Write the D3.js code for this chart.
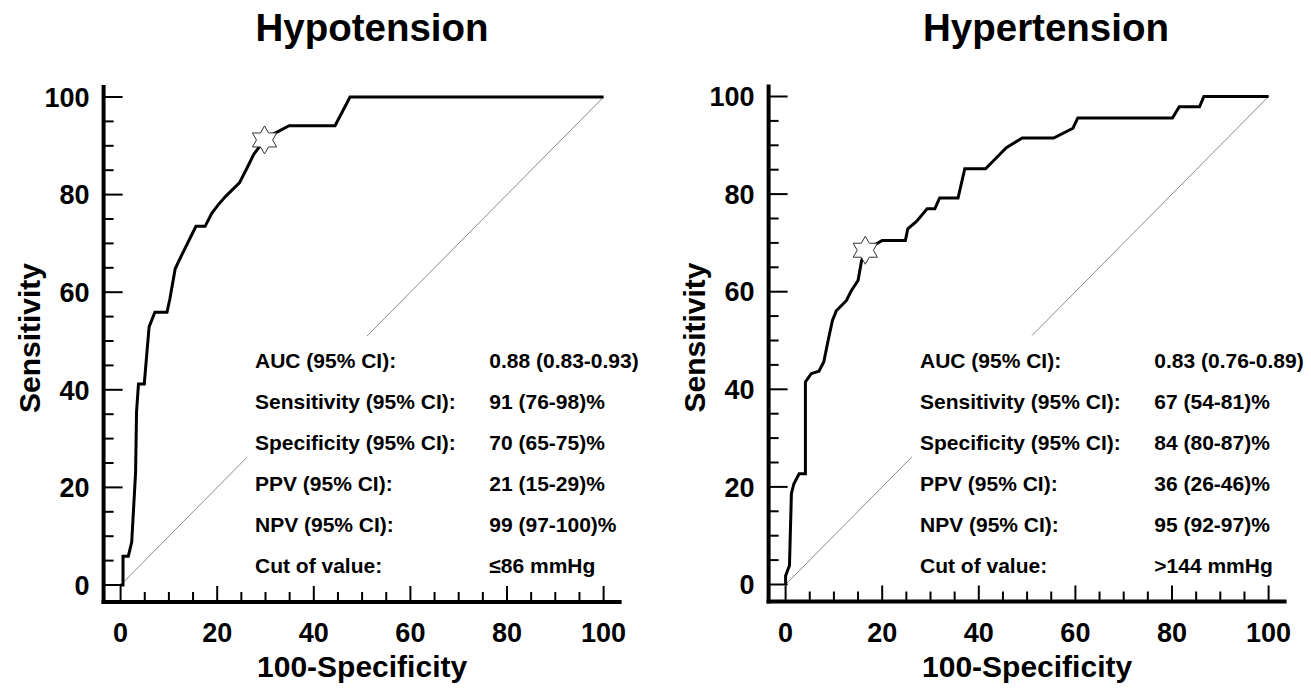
<!DOCTYPE html>
<html>
<head>
<meta charset="utf-8">
<script src="https://cdn.jsdelivr.net/npm/d3@7"></script>
<style>
  html, body { margin: 0; padding: 0; background: #fff; }
  svg { display: block; font-family: "Liberation Sans", Arial, sans-serif; font-weight: bold; }
</style>
</head>
<body>
<svg id="chart" width="1311" height="690"></svg>
<script>
// ---- data ----
const titles = ["Hypotension", "Hypertension"];
const xAxisTitle = "100-Specificity";
const yAxisTitle = "Sensitivity";
const tickValues = [0, 20, 40, 60, 80, 100];
const tickLabels = ["0", "20", "40", "60", "80", "100"];

const hypoFPR  = [0, 0.5, 0.5, 1.6, 2.3, 3.1, 3.3, 3.7, 4.9, 5.9, 7.1, 9.6, 10.2, 11.3, 12.3, 15.6, 17.5, 18.9, 20.2, 21.8, 24.6, 26.1, 27.6, 29.8, 31.6, 34.9, 44.4, 47.5, 100];
const hypoSens = [0, 0, 5.9, 5.9, 8.8, 23.0, 35.5, 41.2, 41.2, 52.9, 55.9, 55.9, 58.6, 64.8, 66.9, 73.5, 73.5, 76.2, 77.9, 79.7, 82.4, 85.3, 88.3, 91.2, 92.4, 94.1, 94.1, 100, 100];
const hypoCut = [29.8, 91.2];

const hyperFPR  = [0, 0, 0.8, 1.2, 1.7, 2.8, 4.1, 4.1, 5.3, 6.9, 7.9, 8.8, 9.7, 10.5, 12.6, 13.6, 15.0, 15.7, 16.5, 20.0, 24.8, 25.3, 27.1, 29.3, 30.9, 31.9, 35.7, 37.1, 41.4, 43.6, 45.7, 49.0, 55.5, 59.5, 60.5, 80.1, 81.5, 85.7, 86.6, 100];
const hyperSens = [0, 1.8, 3.9, 18.6, 20.6, 22.7, 22.7, 41.5, 43.2, 43.7, 45.6, 50.0, 54.1, 56.1, 58.2, 60.2, 62.3, 66.2, 68.5, 70.5, 70.5, 72.9, 74.4, 77.0, 77.0, 79.2, 79.2, 85.2, 85.2, 87.4, 89.5, 91.5, 91.5, 93.5, 95.6, 95.6, 97.9, 97.9, 100, 100];
const hyperCut = [16.5, 68.5];

const statLabels = ["AUC (95% CI):", "Sensitivity (95% CI):", "Specificity (95% CI):", "PPV (95% CI):", "NPV (95% CI):", "Cut of value:"];
const hypoValues  = ["0.88 (0.83-0.93)", "91 (76-98)%", "70 (65-75)%", "21 (15-29)%", "99 (97-100)%", "\u226486 mmHg"];
const hyperValues = ["0.83 (0.76-0.89)", "67 (54-81)%", "84 (80-87)%", "36 (26-46)%", "95 (92-97)%", ">144 mmHg"];

// ---- layout ----
const svg = d3.select("#chart");
const W = 483, H = 488;
const x = d3.scaleLinear().domain([0, 100]).range([0, W]);
const y = d3.scaleLinear().domain([0, 100]).range([H, 0]);

const panels = [
  { ox: 120.6, oy: 97, title: titles[0], titleX: 372, fpr: hypoFPR, sens: hypoSens, cut: hypoCut, values: hypoValues },
  { ox: 785.6, oy: 96.5, title: titles[1], titleX: 1046, fpr: hyperFPR, sens: hyperSens, cut: hyperCut, values: hyperValues }
];

function hexagram(R) {
  const r = R / Math.sqrt(3);
  const pts = [];
  for (let i = 0; i < 12; i++) {
    const a = -Math.PI / 2 + i * Math.PI / 6;
    const rad = i % 2 === 0 ? R : r;
    pts.push([rad * Math.cos(a), rad * Math.sin(a)]);
  }
  return "M" + pts.map(p => p.join(",")).join("L") + "Z";
}

panels.forEach(p => {
  // title
  svg.append("text").attr("x", p.titleX).attr("y", 41)
    .attr("text-anchor", "middle").attr("font-size", 38.5).text(p.title);

  const g = svg.append("g").attr("transform", `translate(${p.ox},${p.oy})`);

  // diagonal reference line
  g.append("line")
    .attr("x1", x(0)).attr("y1", y(0)).attr("x2", x(100)).attr("y2", y(100))
    .attr("stroke", "#8a8a8a").attr("stroke-width", 1);

  // white box behind statistics
  g.append("rect").attr("x", 126.5).attr("y", 239).attr("width", 360).attr("height", 247).attr("fill", "#fff");

  // statistics text
  statLabels.forEach((lab, i) => {
    g.append("text").attr("x", 134.4).attr("y", 271 + i * 41).attr("font-size", 21).text(lab);
    g.append("text").attr("x", 368.7).attr("y", 271 + i * 41).attr("font-size", 21).text(p.values[i]);
  });

  // axes lines
  const axX = -17, axY = 505;
  g.append("line").attr("x1", axX).attr("y1", -12).attr("x2", axX).attr("y2", axY + 2)
    .attr("stroke", "#000").attr("stroke-width", 4);
  g.append("line").attr("x1", axX - 2).attr("y1", axY).attr("x2", 501).attr("y2", axY)
    .attr("stroke", "#000").attr("stroke-width", 4);

  // ticks (inward)
  const minor = d3.range(0, 101, 5);
  minor.forEach(v => {
    const major = v % 20 === 0;
    g.append("line").attr("x1", axX).attr("x2", axX + (major ? 19 : 10))
      .attr("y1", y(v)).attr("y2", y(v)).attr("stroke", "#000").attr("stroke-width", 2);
    g.append("line").attr("x1", x(v)).attr("x2", x(v))
      .attr("y1", axY).attr("y2", axY - (major ? 16 : 10)).attr("stroke", "#000").attr("stroke-width", 2);
  });
  tickValues.forEach((v, i) => {
    g.append("text").attr("x", axX - 14).attr("y", y(v)).attr("dy", "0.36em")
      .attr("text-anchor", "end").attr("font-size", 27).text(tickLabels[i]);
    g.append("text").attr("x", x(v)).attr("y", 545)
      .attr("text-anchor", "middle").attr("font-size", 27).text(tickLabels[i]);
  });

  // axis titles
  g.append("text").attr("x", x(50)).attr("y", 580)
    .attr("text-anchor", "middle").attr("font-size", 30).text(xAxisTitle);
  g.append("text").attr("transform", `translate(${-81},${y(50) - 3}) rotate(-90)`)
    .attr("text-anchor", "middle").attr("font-size", 30).text(yAxisTitle);

  // ROC curve
  const pts = p.fpr.map((f, i) => [f, p.sens[i]]);
  const line = d3.line().x(d => x(d[0])).y(d => y(d[1]));
  g.append("path").datum(pts).attr("d", line)
    .attr("fill", "none").attr("stroke", "#000").attr("stroke-width", 3)
    .attr("stroke-linejoin", "miter");

  // cut-off star
  g.append("path").attr("d", hexagram(14))
    .attr("transform", `translate(${x(p.cut[0])},${y(p.cut[1])})`)
    .attr("fill", "#fff").attr("stroke", "#333").attr("stroke-width", 1);
});
</script>
</body>
</html>
